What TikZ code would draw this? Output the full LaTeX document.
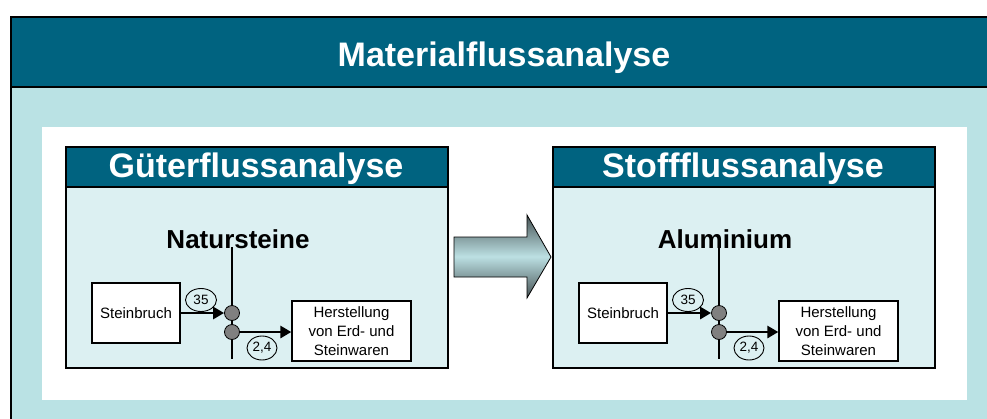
\documentclass[tikz,border=0pt]{standalone}
\usepackage{fontspec}
\setmainfont{Liberation Sans}
\usetikzlibrary{arrows.meta,shapes.geometric}
\definecolor{darkteal}{RGB}{0,99,128}
\definecolor{outerteal}{RGB}{186,226,228}
\definecolor{innerteal}{RGB}{220,240,242}
\definecolor{circgray}{RGB}{128,128,128}
\definecolor{arrowlight}{RGB}{188,224,227}
\definecolor{arrowdark}{RGB}{70,82,84}
\tikzset{
  x=1pt, y=-1pt,
  frame/.style={draw=black, line width=1.4pt},
  panel/.style={draw=black, line width=1.3pt, fill=innerteal, inner sep=0pt},
  titlebar/.style={draw=black, line width=1.3pt, fill=darkteal, inner sep=0pt},
  bigtitle/.style={text=white, font=\fontsize{34}{40}\selectfont\bfseries, inner sep=0pt},
  subst/.style={font=\fontsize{26}{30}\selectfont\bfseries, inner sep=0pt},
  procbox/.style={draw=black, line width=1.3pt, fill=white, inner sep=0pt, align=center,
    font=\fontsize{15}{19}\selectfont},
  valell/.style={ellipse, draw=black, line width=0.9pt, inner sep=0pt,
    font=\fontsize{13.5}{15}\selectfont},
  junction/.style={circle, draw=black, fill=circgray, minimum size=15pt, inner sep=0pt, line width=0.8pt},
  flowarrow/.style={line width=2.8pt, -{Triangle[length=11pt,width=12pt]}},
  axisline/.style={line width=1.1pt},
}
\newcommand{\analysisbox}[4]{%
  \begin{scope}[xshift=#1]
    \node[panel, minimum width=382pt, minimum height=221pt] (#4-box) at (257,257.5) {};
    \node[titlebar, minimum width=382pt, minimum height=40pt] (#4-bar) at (257,167) {};
    \node[bigtitle, anchor=base] (#4-title) at (256,177) {#2};
    \node[subst, anchor=base] (#4-sub) at (238,248) {#3};
    \coordinate (#4-vtop) at (232,247);
    \coordinate (#4-vbot) at (232,359);
    \draw[axisline] (#4-vtop) -- (#4-vbot);
    \node[procbox, minimum width=88pt, minimum height=60pt] (#4-sb) at (136,313) {Steinbruch};
    \node[procbox, minimum width=119pt, minimum height=60pt] (#4-hs) at (351.5,331)
      {Herstellung\\von Erd- und\\Steinwaren};
    \node[junction] (#4-j1) at (232,313) {};
    \node[junction] (#4-j2) at (232,332) {};
    \draw[flowarrow] (#4-sb.east |- #4-j1) -- (#4-j1.west);
    \draw[flowarrow] (#4-j2.east) -- (#4-j2.east -| #4-hs.west);
    \node[valell, minimum width=31pt, minimum height=23pt] (#4-v1) at (201,300) {35};
    \node[valell, minimum width=30pt, minimum height=24pt] (#4-v2) at (262,348) {2,4};
  \end{scope}}
\begin{document}
\begin{tikzpicture}
  \useasboundingbox (0,0) rectangle (987,418);
  % outer frame
  \fill[outerteal] (11,87) rectangle (990,421);
  \fill[darkteal] (11,17) rectangle (990,87);
  \draw[frame] (990,17) -- (11,17) -- (11,421);
  \draw[frame] (11,87) -- (990,87);
  \node[bigtitle, anchor=base] (maintitle) at (504,66.5) {Materialflussanalyse};
  % white panel
  \fill[white] (42,127) rectangle (967,400);
  % two analysis boxes
  \analysisbox{0pt}{Güterflussanalyse}{Natursteine}{L}
  \analysisbox{487pt}{Stoffflussanalyse}{Aluminium}{R}
  % big arrow
  \shade[top color=arrowdark, bottom color=arrowdark, middle color=arrowlight, draw=black, line width=0.8pt]
    (454,237) -- (527,237) -- (527,215) -- (551,257) -- (527,298) -- (527,277) -- (454,277) -- cycle;
\end{tikzpicture}
\end{document}
